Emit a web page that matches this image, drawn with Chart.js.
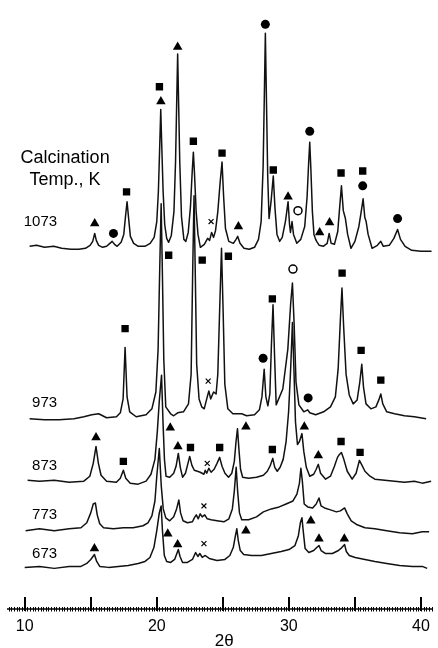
<!DOCTYPE html>
<html>
<head>
<meta charset="utf-8">
<title>XRD patterns by calcination temperature</title>
<script src="https://cdn.jsdelivr.net/npm/chart.js@4.4.1/dist/chart.umd.min.js"></script>
<style>
  html, body { margin: 0; padding: 0; background: #fff; }
  canvas { display: block; }
</style>
</head>
<body>
<canvas id="xrd" width="438" height="648"></canvas>
<script>
// diffraction traces: [2theta, intensity above the trace's own baseline]
const trace1073 = [
  [10.37, 0], [10.9, 1], [11.5, -1], [12.2, 0], [12.8, -2], [13.5, -3], [14.1, -3], [14.6, -2],
  [14.95, 1], [15.15, 5], [15.3, 13], [15.42, 6], [15.6, 1], [15.9, -1], [16.2, 0], [16.45, 3],
  [16.62, 5], [16.8, 2], [17.0, 0], [17.3, 4], [17.5, 12], [17.63, 30], [17.75, 45], [17.87, 28],
  [18.0, 10], [18.25, 3], [18.6, 0], [19.1, 0], [19.5, 3], [19.8, 9], [20.0, 25], [20.12, 55],
  [20.22, 100], [20.3, 138], [20.38, 100], [20.48, 55], [20.6, 22], [20.75, 8], [20.9, 4], [21.1, 11],
  [21.3, 35], [21.42, 85], [21.5, 140], [21.58, 194], [21.66, 140], [21.74, 85], [21.87, 30],
  [22.05, 7], [22.2, 5], [22.38, 14], [22.55, 40], [22.68, 75], [22.77, 95], [22.86, 72], [22.98, 35],
  [23.12, 12], [23.3, -1], [23.6, 2], [23.85, 8], [24.0, 6], [24.15, 14], [24.3, 9],
  [24.45, 16], [24.62, 35], [24.8, 65], [24.94, 85], [25.06, 50], [25.2, 18], [25.45, 5], [25.8, 3],
  [26.0, 7], [26.13, 10], [26.3, 3], [26.6, -2], [27.0, -3], [27.4, -1], [27.7, 7], [27.9, 25],
  [28.05, 80], [28.14, 150], [28.22, 215], [28.3, 150], [28.4, 70], [28.5, 28], [28.65, 45],
  [28.82, 71], [28.95, 38], [29.1, 12], [29.3, 5], [29.5, 9], [29.75, 26], [29.94, 45], [30.05, 22],
  [30.12, 14], [30.24, 25], [30.35, 12], [30.6, 3], [30.9, 7], [31.2, 20], [31.38, 50], [31.5, 85],
  [31.58, 105], [31.66, 80], [31.78, 35], [31.9, 12], [32.0, 8], [32.1, 5], [32.3, 1], [32.6, 0],
  [32.9, 3], [33.05, 13], [33.2, 3], [33.45, 2], [33.7, 15], [33.85, 40], [33.98, 61], [34.12, 36],
  [34.28, 28], [34.45, 12], [34.7, -2], [35.0, 5], [35.3, 20], [35.5, 37], [35.62, 48], [35.75, 29],
  [35.85, 25], [36.0, 12], [36.3, -2], [36.7, 1], [36.96, 5], [37.15, 0], [37.6, 1], [37.95, 8],
  [38.23, 17], [38.45, 7], [38.8, 0], [39.3, -4], [40.0, -5], [40.8, -5]
];

const trace973 = [
  [10.37, 0], [11.49, -1], [12.61, -1], [13.73, 0], [14.48, 2], [15.08, 4], [15.6, 5], [16.2, 1],
  [16.95, 2], [17.24, 6], [17.45, 20], [17.6, 72], [17.75, 22], [17.95, 7], [18.44, 2], [19.19, 4],
  [19.63, 10], [19.93, 27], [20.1, 70], [20.22, 150], [20.33, 217], [20.42, 150], [20.53, 60],
  [20.68, 12], [21.05, 5], [21.28, 3], [21.58, 6], [22.02, 7], [22.4, 15], [22.6, 45], [22.72, 150],
  [22.82, 225], [22.91, 150], [23.02, 55], [23.2, 20], [23.4, 12], [23.59, 10], [23.82, 22], [23.94, 28],
  [24.08, 20], [24.3, 27], [24.49, 25], [24.62, 45], [24.76, 110], [24.9, 172], [25.02, 110],
  [25.15, 35], [25.38, 10], [25.76, 5], [26.43, 5], [26.8, 3], [27.4, 4], [27.77, 9], [27.96, 22],
  [28.13, 50], [28.26, 22], [28.41, 13], [28.56, 25], [28.68, 75], [28.8, 115], [28.92, 62],
  [29.04, 14], [29.54, 30], [29.92, 70], [30.14, 117], [30.27, 137], [30.4, 95], [30.54, 37],
  [30.76, 14], [31.13, 7], [31.43, 9], [31.58, 6], [32.03, 4], [32.63, 7], [33.15, 12], [33.52, 22],
  [33.73, 50], [33.9, 100], [34.02, 132], [34.15, 92], [34.33, 45], [34.57, 24], [34.87, 15],
  [35.17, 19], [35.37, 37], [35.52, 55], [35.65, 32], [35.84, 15], [36.21, 10], [36.59, 12],
  [36.81, 19], [36.96, 25], [37.11, 15], [37.41, 7], [38.0, 5], [38.75, 3], [39.5, 2], [40.39, 0]
];

const trace873 = [
  [10.22, 0], [11.12, -1], [12.24, 0], [13.36, -2], [14.48, -1], [14.93, 4], [15.19, 17], [15.4, 34],
  [15.58, 17], [15.78, 5], [16.2, -1], [16.94, -2], [17.24, 2], [17.47, 10], [17.65, 2], [17.99, -3],
  [18.59, -4], [19.19, -1], [19.56, 6], [19.86, 21], [20.04, 49], [20.19, 80], [20.36, 106],
  [20.47, 59], [20.58, 21], [20.7, 4], [20.98, 3], [21.28, 7], [21.46, 14], [21.63, 27], [21.78, 13],
  [21.95, 3], [22.17, 7], [22.36, 17], [22.49, 24], [22.66, 15], [22.84, 10], [23.07, 9], [23.29, 8],
  [23.57, 6], [23.67, 10], [23.78, 7], [23.94, 12], [24.11, 8], [24.34, 11], [24.56, 17], [24.76, 23],
  [24.94, 14], [25.16, 7], [25.43, 3], [25.68, 7], [25.87, 19], [26.0, 39], [26.11, 52], [26.22, 31],
  [26.34, 11], [26.5, 3], [26.95, 2], [27.55, 3], [28.07, 5], [28.37, 9], [28.6, 15], [28.78, 22],
  [28.93, 13], [29.12, 9], [29.34, 13], [29.57, 21], [29.79, 39], [29.98, 69], [30.14, 114],
  [30.27, 159], [30.39, 109], [30.5, 59], [30.65, 36], [30.8, 39], [30.99, 47], [31.13, 29],
  [31.32, 13], [31.58, 4], [31.88, 6], [32.07, 11], [32.23, 16], [32.4, 7], [32.78, 1], [33.15, 4],
  [33.45, 14], [33.68, 23], [33.83, 26], [33.98, 28], [34.16, 21], [34.42, 9], [34.79, 1], [35.09, 7],
  [35.34, 20], [35.5, 16], [35.76, 9], [36.14, 4], [36.51, 1], [37.26, 0], [38.0, -1], [38.75, -2],
  [39.5, -1], [40.1, -3], [40.77, -1]
];

const trace773 = [
  [10.07, -1], [11.12, 1], [12.24, -1], [13.36, 1], [14.26, 2], [14.7, 7], [15.0, 17], [15.19, 26],
  [15.35, 27], [15.49, 15], [15.68, 6], [15.97, 2], [16.72, 1], [17.47, 2], [18.21, 2], [18.96, 4],
  [19.33, 7], [19.63, 14], [19.86, 29], [20.0, 54], [20.19, 82], [20.34, 44], [20.49, 21], [20.68, 12],
  [20.98, 9], [21.28, 13], [21.5, 21], [21.67, 30], [21.8, 17], [21.99, 9], [22.32, 7], [22.7, 8],
  [22.84, 12], [22.99, 15], [23.14, 11], [23.29, 16], [23.44, 13], [23.63, 15], [23.82, 11],
  [24.11, 10], [24.56, 9], [25.08, 8], [25.46, 11], [25.72, 21], [25.87, 39], [26.01, 63], [26.12, 39],
  [26.26, 17], [26.43, 10], [26.95, 10], [27.55, 13], [28.07, 18], [28.67, 21], [29.27, 23],
  [29.79, 26], [30.31, 29], [30.61, 36], [30.8, 47], [30.91, 62], [31.02, 49], [31.16, 26], [31.43, 23],
  [31.8, 22], [32.07, 26], [32.28, 32], [32.44, 24], [32.7, 22], [33.15, 20], [33.6, 18], [33.9, 19],
  [34.22, 22], [34.42, 16], [34.72, 9], [35.17, 5], [35.76, 2], [36.51, 1], [37.41, -1], [38.38, -3],
  [39.35, -4], [40.1, -2], [40.62, -2]
];

const trace673 = [
  [10.0, 0], [11.12, 1], [12.24, -1], [13.36, 1], [14.26, 1], [14.7, 4], [15.0, 8], [15.28, 13],
  [15.45, 6], [15.68, 1], [16.35, 0], [17.09, 1], [17.84, 2], [18.59, 4], [19.11, 6], [19.48, 10],
  [19.78, 20], [20.0, 37], [20.19, 55], [20.33, 62], [20.43, 37], [20.57, 12], [20.75, 6], [21.05, 5],
  [21.35, 8], [21.52, 14], [21.63, 18], [21.76, 11], [21.95, 5], [22.32, 5], [22.7, 8], [22.94, 15],
  [23.11, 11], [23.26, 14], [23.44, 10], [23.67, 12], [23.97, 9], [24.56, 7], [25.16, 8], [25.53, 12],
  [25.79, 20], [25.94, 31], [26.06, 39], [26.17, 27], [26.32, 17], [26.58, 13], [27.18, 12],
  [27.92, 12], [28.67, 14], [29.42, 16], [30.01, 18], [30.46, 22], [30.72, 32], [30.87, 45],
  [30.99, 50], [31.1, 35], [31.23, 19], [31.51, 15], [31.88, 17], [32.11, 20], [32.28, 22],
  [32.44, 17], [32.78, 14], [33.3, 14], [33.75, 17], [34.01, 20], [34.22, 23], [34.35, 16],
  [34.57, 12], [35.02, 10], [35.76, 8], [36.51, 6], [37.41, 4], [38.38, 2], [39.35, 1], [40.1, 1],
  [40.47, -1]
];

const temperatures = ['1073', '973', '873', '773', '673'];
const traces = [trace1073, trace973, trace873, trace773, trace673];
// vertical stacking offset of each pattern
const offsets = [366, 192, 130, 80, 42];

// phase markers: [2theta, stacked height]
const triangles = [
  [15.30, 389], [20.31, 512], [21.58, 567], [26.18, 386], [29.94, 416], [32.33, 380], [33.08, 390],
  [15.40, 173], [21.02, 183], [21.60, 164], [26.75, 184], [31.17, 184], [32.23, 155],
  [15.28, 61], [20.83, 76], [21.58, 65], [26.75, 79], [31.66, 89], [32.28, 71], [34.20, 71]
];
const squares = [
  [17.71, 421], [20.20, 527], [22.77, 472], [24.94, 460], [28.82, 443], [33.95, 440], [35.59, 442],
  [17.60, 283], [20.90, 357], [23.44, 352], [25.42, 356], [28.75, 313], [34.03, 339], [35.47, 261], [36.96, 231],
  [17.47, 149], [22.55, 163], [24.76, 163], [28.75, 161], [33.95, 169], [35.39, 158]
];
const circles = [
  [16.72, 379], [28.22, 590], [31.58, 482], [35.59, 427], [38.23, 394],
  [28.05, 253], [31.46, 213]
];
const openCircles = [[30.69, 402], [30.31, 343]];
const crosses = [[24.11, 391], [23.89, 230], [23.82, 147], [23.57, 104], [23.57, 66]];

const labeledTicks = [10, 20, 30, 40];

const FONT = 'Arial, "Liberation Sans", Helvetica, sans-serif';
const toXY = pts => pts.map(([x, y]) => ({ x, y }));

const lineSets = traces.map((t, i) => ({
  label: temperatures[i] + ' K',
  data: t.map(([x, v]) => ({ x, y: v + offsets[i] })),
  showLine: true,
  borderColor: '#111',
  borderWidth: 1.5,
  borderJoinStyle: 'round',
  pointRadius: 0,
  tension: 0
}));

const markerSet = (data, style, radius, extra) => Object.assign({
  data: toXY(data),
  showLine: false,
  pointStyle: style,
  pointRadius: radius,
  pointBackgroundColor: '#000',
  pointBorderColor: '#000',
  pointBorderWidth: 0
}, extra || {});

const markerSets = [
  markerSet(triangles, 'triangle', 5.5),
  markerSet(squares, 'rect', 5.2),
  markerSet(circles, 'circle', 4.5),
  markerSet(openCircles, 'circle', 4, { pointBackgroundColor: '#fff', pointBorderWidth: 1.5 }),
  markerSet(crosses, 'crossRot', 3.5, { pointBorderWidth: 1.2 })
];

// axis line, tick marks and text labels
const decor = {
  id: 'decor',
  afterDraw(chart) {
    const { ctx, chartArea, scales: { x, y } } = chart;
    const base = chartArea.bottom;
    ctx.save();
    ctx.strokeStyle = '#000';

    ctx.lineWidth = 1.5;
    ctx.beginPath();
    ctx.moveTo(chartArea.left, base);
    ctx.lineTo(chartArea.right, base);
    ctx.stroke();

    ctx.lineWidth = 1;
    ctx.beginPath();
    for (let k = Math.ceil(x.min * 5); k <= Math.floor(x.max * 5); k++) {
      const px = Math.round(x.getPixelForValue(k / 5)) + 0.5;
      ctx.moveTo(px, base - 2);
      ctx.lineTo(px, base + 2.5);
    }
    ctx.stroke();

    ctx.lineWidth = 2;
    ctx.beginPath();
    for (let v = 10; v <= 40; v += 5) {
      const px = Math.round(x.getPixelForValue(v));
      ctx.moveTo(px, base + 2);
      ctx.lineTo(px, base - 12);
    }
    ctx.stroke();

    ctx.fillStyle = '#000';
    ctx.textBaseline = 'middle';

    ctx.font = '17px ' + FONT;
    ctx.textAlign = 'center';
    ctx.fillText('2θ', x.getPixelForValue(25.1), base + 32);

    ctx.font = '18px ' + FONT;
    ctx.fillText('Calcination', x.getPixelForValue(13.06), y.getPixelForValue(455));
    ctx.fillText('Temp., K', x.getPixelForValue(13.06), y.getPixelForValue(433));

    const lift = [24, 16, 14, 15, 14];
    ctx.font = '15px ' + FONT;
    ctx.textAlign = 'right';
    temperatures.forEach((t, i) => {
      ctx.fillText(t, x.getPixelForValue(12.45), y.getPixelForValue(offsets[i]) - lift[i]);
    });
    ctx.restore();
  }
};

new Chart(document.getElementById('xrd'), {
  type: 'scatter',
  data: { datasets: [...lineSets, ...markerSets] },
  options: {
    responsive: false,
    animation: false,
    layout: { padding: { left: 7, right: 0, top: 0, bottom: 0 } },
    plugins: { legend: { display: false }, tooltip: { enabled: false } },
    scales: {
      x: {
        type: 'linear',
        min: 8.66,
        max: 40.84,
        grid: { display: false, drawTicks: false },
        border: { display: false },
        ticks: {
          stepSize: 5,
          includeBounds: false,
          autoSkip: false,
          maxRotation: 0,
          padding: 8,
          color: '#000',
          font: { family: FONT, size: 16 },
          callback: v => labeledTicks.includes(v) ? String(v) : ''
        },
        afterFit(scale) { scale.height = 39; }
      },
      y: { type: 'linear', min: 0, max: 609, display: false }
    }
  },
  plugins: [decor]
});
</script>
</body>
</html>
